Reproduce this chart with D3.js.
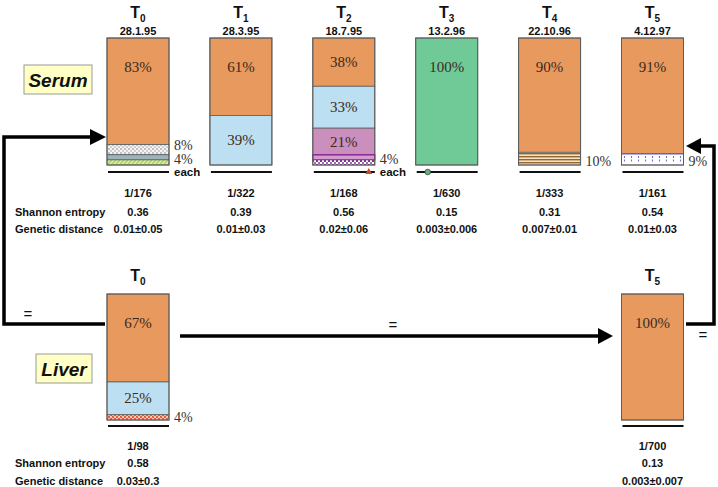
<!DOCTYPE html>
<html><head><meta charset="utf-8">
<script src="https://cdn.jsdelivr.net/npm/d3@7"></script>
<style>body{margin:0;background:#fff}svg{display:block}</style>
</head><body>
<svg id="chart" width="718" height="487"></svg>
<script>
// ---- data ----
const serumPoints = ["T0","T1","T2","T3","T4","T5"];
const serumDates = ["28.1.95","28.3.95","18.7.95","13.2.96","22.10.96","4.12.97"];
const serumFreq = ["1/176","1/322","1/168","1/630","1/333","1/161"];
const serumEntropy = ["0.36","0.39","0.56","0.15","0.31","0.54"];
const serumDistance = ["0.01±0.05","0.01±0.03","0.02±0.06","0.003±0.006","0.007±0.01","0.01±0.03"];
const serumVariants = [
  ["orange","grayDots","grayBlue","greenHatch"],
  ["orange","blue"],
  ["orange","blue","pink","purpleLine","purpleDots"],
  ["green"],
  ["orange","brownStripes"],
  ["orange","blueBricks"]
];
const serumPercents = [
  [83,8,4,4],
  [61,39],
  [38,33,21,4,4],
  [100],
  [90,10],
  [91,9]
];
const serumInsideLabels = [
  ["83%",null,null,null],
  ["61%","39%"],
  ["38%","33%","21%",null,null],
  ["100%"],
  ["90%",null],
  ["91%",null]
];
const serumSideLabels = [
  [{text:"8%",segs:[1]},{text:"4%",segs:[2,3],each:true}],
  [],
  [{text:"4%",segs:[3,4],each:true}],
  [],
  [{text:"10%",segs:[1]}],
  [{text:"9%",segs:[1]}]
];
const serumMarkers = [null,null,"triangle","circle",null,null];

const liverPoints = ["T0","T5"];
const liverFreq = ["1/98","1/700"];
const liverEntropy = ["0.58","0.13"];
const liverDistance = ["0.03±0.3","0.003±0.007"];
const liverVariants = [["orange","blue","redCheck"],["orange"]];
const liverPercents = [[67,25,4],[100]];
const liverInsideLabels = [["67%","25%",null],["100%"]];
const liverSideLabels = [[{text:"4%",segs:[2]}],[]];

const rowLabels = ["Shannon entropy","Genetic distance"];
const equalSigns = ["=","=","="];

// ---- drawing ----
const svg = d3.select("#chart");
const defs = svg.append("defs");
const SANS = "Arial, 'Liberation Sans', sans-serif";
const SERIF = "'Liberation Serif', 'Times New Roman', serif";

function pattern(id,w,h,bg,draw){
  const p = defs.append("pattern").attr("id",id).attr("patternUnits","userSpaceOnUse")
    .attr("width",w).attr("height",h);
  p.append("rect").attr("width",w).attr("height",h).attr("fill",bg);
  draw(p);
}
pattern("grayDots",4,4,"#f4f4f4",p=>{
  p.append("circle").attr("cx",1).attr("cy",1).attr("r",0.9).attr("fill","#a9a9a9");
  p.append("circle").attr("cx",3).attr("cy",3).attr("r",0.9).attr("fill","#bdbdbd");
});
pattern("greenHatch",4,4,"#d8ee9a",p=>{
  p.append("path").attr("d","M0,4 L4,0").attr("stroke","#9ccf5a").attr("stroke-width",1.2);
});
pattern("purpleDots",4,4,"#ffffff",p=>{
  p.append("rect").attr("width",2).attr("height",2).attr("fill","#8c2aa0");
  p.append("rect").attr("x",2).attr("y",2).attr("width",2).attr("height",2).attr("fill","#b060c0");
});
pattern("brownStripes",4,3,"#f5e4c4",p=>{
  p.append("rect").attr("y",0).attr("width",4).attr("height",1.4).attr("fill","#94652f");
});
pattern("blueBricks",7,11,"#ffffff",p=>{
  p.append("path").attr("d","M1.5,2 V9").attr("stroke","#6f76c4").attr("stroke-width",1.1).attr("stroke-dasharray","2,1.5");
  p.append("path").attr("d","M0,0.5 H7").attr("stroke","#aab0e6").attr("stroke-width",1);
});
pattern("redCheck",4,4,"#f7c8b8",p=>{
  p.append("rect").attr("width",2).attr("height",2).attr("fill","#e0603a");
  p.append("rect").attr("x",2).attr("y",2).attr("width",2).attr("height",2).attr("fill","#e0603a");
});

const fills = {
  orange:"#e8995e", blue:"#bcdff2", pink:"#cb8fbd", green:"#6fca98",
  grayBlue:"#9db3ba", purpleLine:"#d59ccf",
  grayDots:"url(#grayDots)", greenHatch:"url(#greenHatch)", purpleDots:"url(#purpleDots)",
  brownStripes:"url(#brownStripes)", blueBricks:"url(#blueBricks)", redCheck:"url(#redCheck)"
};

const x = d3.scalePoint().domain(serumPoints).range([138, 652.5]);
const barW = 62;

function tLabel(g, name, cx, y){
  const t = g.append("text").attr("x",cx).attr("y",y).attr("text-anchor","middle")
    .attr("font-family",SANS).attr("font-weight","bold").attr("font-size",16).attr("fill","#111");
  t.append("tspan").text(name[0]);
  t.append("tspan").attr("font-size",10).attr("dy",4).text(name.slice(1));
}

function drawBars(points, variants, percents, inside, side, top, bottom, underY, markers, isSerum){
  points.forEach((p,i)=>{
    const cx = x(p), x0 = cx - barW/2;
    const total = d3.sum(percents[i]);
    const y = d3.scaleLinear().domain([0,total]).range([top,bottom]);
    const cum = d3.cumsum(percents[i]);
    const g = svg.append("g");
    percents[i].forEach((v,j)=>{
      const y0 = y(cum[j]-v), y1 = y(cum[j]);
      g.append("rect").attr("x",x0).attr("y",y0).attr("width",barW).attr("height",y1-y0)
        .attr("fill",fills[variants[i][j]])
        .attr("stroke", variants[i][j]==="purpleLine" ? "#8a1a9a" : "#5c5c5c")
        .attr("stroke-width", variants[i][j]==="purpleLine" ? 1.3 : 0.8);
      const lab = inside[i][j];
      if(lab){
        const h = y1-y0;
        const ly = y0 + Math.min(29, h/2) + 5;
        g.append("text").attr("x",cx).attr("y",ly).attr("text-anchor","middle")
          .attr("font-family",SERIF).attr("font-size",15).attr("fill","#3a2a20").text(lab);
      }
    });
    g.append("rect").attr("x",x0).attr("y",top).attr("width",barW).attr("height",bottom-top)
      .attr("fill","none").attr("stroke","#5c5c5c").attr("stroke-width",1);
    side[i].forEach(s=>{
      const ya = y(cum[s.segs[0]]-percents[i][s.segs[0]]);
      const yb = y(cum[s.segs[s.segs.length-1]]);
      let cy = (ya+yb)/2;
      if(s.segs.length===1) cy = Math.max(cy, bottom-4);
      if(isSerum && i===0 && !s.each) cy = ya + 1;
      g.append("text").attr("x",x0+barW+5).attr("y",cy+4.5)
        .attr("font-family",SERIF).attr("font-size",14).attr("fill","#333").text(s.text);
      if(s.each){
        g.append("text").attr("x",x0+barW+5).attr("y",bottom+11)
          .attr("font-family",SANS).attr("font-weight","bold").attr("font-size",11.5).attr("fill","#111").text("each");
      }
    });
    g.append("line").attr("x1",x0+1).attr("x2",x0+barW).attr("y1",underY).attr("y2",underY)
      .attr("stroke","#111").attr("stroke-width",2);
    if(markers && markers[i]==="triangle"){
      const mx = x0+barW-6;
      g.append("path").attr("d",`M${mx-3.5},${underY+2} L${mx+3.5},${underY+2} L${mx},${underY-4} Z`)
        .attr("fill","#c0502a");
    }
    if(markers && markers[i]==="circle"){
      g.append("circle").attr("cx",x0+12).attr("cy",underY).attr("r",2.8)
        .attr("fill","#6fae7c").attr("stroke","#2d4d35").attr("stroke-width",0.8);
    }
  });
}

// Serum
serumPoints.forEach((p,i)=>{
  tLabel(svg,p,x(p),18);
  svg.append("text").attr("x",x(p)).attr("y",35).attr("text-anchor","middle")
    .attr("font-family",SANS).attr("font-weight","bold").attr("font-size",11).attr("fill","#111").text(serumDates[i]);
  [[serumFreq,197],[serumEntropy,216],[serumDistance,233]].forEach(([arr,yy])=>{
    svg.append("text").attr("x",x(p)).attr("y",yy).attr("text-anchor","middle")
      .attr("font-family",SANS).attr("font-weight","bold").attr("font-size",11).attr("fill","#111").text(arr[i]);
  });
});
drawBars(serumPoints, serumVariants, serumPercents, serumInsideLabels, serumSideLabels, 38, 165, 172, serumMarkers, true);

// Liver
liverPoints.forEach((p,i)=>{
  tLabel(svg,p,x(p),281);
  [[liverFreq,450],[liverEntropy,467],[liverDistance,485]].forEach(([arr,yy])=>{
    svg.append("text").attr("x",x(p)).attr("y",yy).attr("text-anchor","middle")
      .attr("font-family",SANS).attr("font-weight","bold").attr("font-size",11).attr("fill","#111").text(arr[i]);
  });
});
drawBars(liverPoints, liverVariants, liverPercents, liverInsideLabels, liverSideLabels, 294, 420, 426, null, false);

// Row labels
[[216,233],[467,485]].forEach(ys=>{
  rowLabels.forEach((l,k)=>{
    svg.append("text").attr("x",15).attr("y",ys[k]).attr("font-family",SANS).attr("font-weight","bold")
      .attr("font-size",11).attr("fill","#111").text(l);
  });
});

// Tissue boxes
[["Serum",24,65,68],["Liver",36,354,56]].forEach(([t,bx,by,bw])=>{
  svg.append("rect").attr("x",bx).attr("y",by).attr("width",bw).attr("height",29)
    .attr("fill","#ffffc6").attr("stroke","#9a9a9a").attr("stroke-width",1);
  svg.append("text").attr("x",bx+bw/2).attr("y",by+22).attr("text-anchor","middle")
    .attr("font-family",SANS).attr("font-weight","bold").attr("font-style","italic")
    .attr("font-size",19).attr("fill","#111").text(t);
});

// Arrows
const ag = svg.append("g").attr("fill","none").attr("stroke","#000").attr("stroke-width",3.5);
ag.append("path").attr("d","M105,324 H4 V137 H92");
ag.append("path").attr("d","M180,336 H600");
ag.append("path").attr("d","M686,324 H714 V146 H700");
svg.append("path").attr("d","M106,137 L90,129 L90,145 Z").attr("fill","#000");
svg.append("path").attr("d","M613,336 L598,328 L598,344 Z").attr("fill","#000");
svg.append("path").attr("d","M686,146 L701,138 L701,154 Z").attr("fill","#000");

[[28,319],[393,330],[703,340]].forEach(([ex,ey],k)=>{
  svg.append("text").attr("x",ex).attr("y",ey).attr("text-anchor","middle")
    .attr("font-family",SANS).attr("font-size",15).attr("fill","#111").text(equalSigns[k]);
});
</script>
</body></html>
